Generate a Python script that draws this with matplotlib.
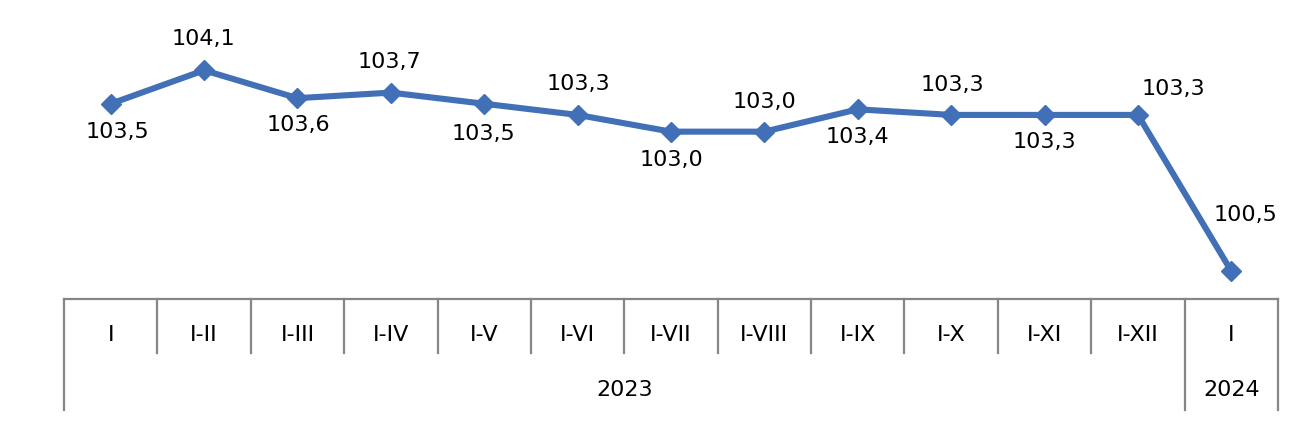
import numpy as np
import matplotlib.pyplot as plt
import matplotlib.transforms as mtransforms

# données
periods = ["I", "I-II", "I-III", "I-IV", "I-V", "I-VI", "I-VII", "I-VIII",
           "I-IX", "I-X", "I-XI", "I-XII", "I"]
values = [103.5, 104.1, 103.6, 103.7, 103.5, 103.3, 103.0, 103.0,
          103.4, 103.3, 103.3, 103.3, 100.5]
labels = ["103,5", "104,1", "103,6", "103,7", "103,5", "103,3", "103,0", "103,0",
          "103,4", "103,3", "103,3", "103,3", "100,5"]
years = ["2023", "2024"]
year_spans = [(0, 11), (12, 12)]

W, H = 1304, 432
fig = plt.figure(figsize=(W / 100, H / 100), dpi=100)
x0, x1, ybase = 64, 1278, 299
ax = fig.add_axes([x0 / W, (H - ybase) / H, (x1 - x0) / W, ybase / H])

blue = "#4270B6"
grey = "#868686"
x = np.arange(len(values))
ax.plot(x, values, color=blue, linewidth=4.4, marker="D", markersize=10.5,
        markerfacecolor=blue, markeredgecolor=blue, zorder=3)

ax.set_xlim(-0.5, len(values) - 0.5)
ax.set_ylim(100.0, 105.36)
ax.set_xticks([])
ax.set_yticks([])
for s in ["top", "right", "left"]:
    ax.spines[s].set_visible(False)
ax.spines["bottom"].set_color(grey)
ax.spines["bottom"].set_linewidth(1.6)

fs = 16
# étiquettes des valeurs (décalages en pixels)
offsets = [(7, -28), (-1, 31), (1, -27), (-1, 31), (-1, -30), (1, 31), (0, -28),
           (0, 30), (0, -28), (1, 30), (0, -27), (35, 26), (14, 56)]
for xi, v, lab, (dx, dy) in zip(x, values, labels, offsets):
    ax.annotate(lab, (xi, v), xytext=(dx * 0.72, dy * 0.72), textcoords="offset points",
                ha="center", va="center", fontsize=fs, color="black")

# axe catégoriel à deux niveaux
trans = mtransforms.blended_transform_factory(ax.transData, ax.transAxes)
def fy(px):
    return -(px - ybase) / ybase

for i in range(len(values) + 1):
    xb = i - 0.5
    bottom = 410 if xb in (-0.5, 11.5, 12.5) else 353
    ax.plot([xb, xb], [0, fy(bottom)], color=grey, linewidth=1.6,
            transform=trans, clip_on=False)

for xi, p in zip(x, periods):
    ax.text(xi, fy(335), p, transform=trans, ha="center", va="center", fontsize=fs)

for (a, b), yr in zip(year_spans, years):
    ax.text((a + b) / 2, fy(390), yr, transform=trans, ha="center", va="center",
            fontsize=fs)

fig.savefig("out.png", dpi=100)
